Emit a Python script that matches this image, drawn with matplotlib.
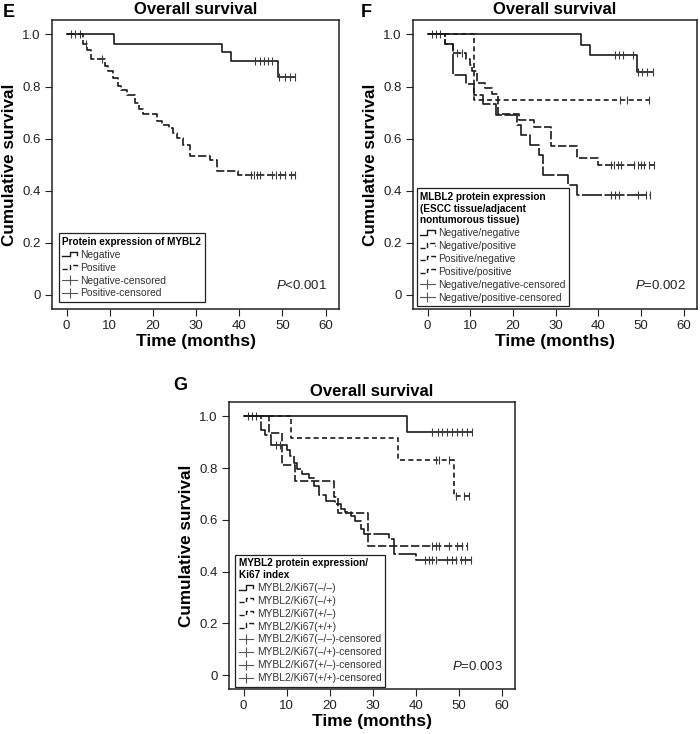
import numpy as np
import matplotlib
matplotlib.use("Agg")
import matplotlib.pyplot as plt
from matplotlib.lines import Line2D
from matplotlib.legend_handler import HandlerBase

plt.rcParams["font.family"] = ["Liberation Sans", "DejaVu Sans"]
plt.rcParams["mathtext.fontset"] = "custom"
plt.rcParams["mathtext.rm"] = "Liberation Sans"
plt.rcParams["mathtext.it"] = "Liberation Sans:italic"

# ---- data ----
x_ticks = [0, 10, 20, 30, 40, 50, 60]
y_ticks = [0, 0.2, 0.4, 0.6, 0.8, 1.0]
y_tick_labels = ["0", "0.2", "0.4", "0.6", "0.8", "1.0"]

# panel E
e_neg_t = [11, 36, 38, 49]
e_neg_s = [0.965, 0.931, 0.897, 0.837]
e_neg_c = [1, 2, 3, 43.7, 44.7, 45.7, 46.6, 47.6, 49.3, 50.5, 51.7, 52.9]
e_pos_t = [3.8, 4.6, 5.7, 8.8, 9.6, 10.8, 11.9, 12.7, 13.9, 15.8, 16.7, 17.7,
           20.9, 22, 23.6, 24.7, 25.5, 27, 28.6, 33.3, 34.8, 39.8]
e_pos_s = [0.962, 0.942, 0.904, 0.878, 0.859, 0.833, 0.801, 0.788, 0.769, 0.737,
           0.712, 0.695, 0.667, 0.654, 0.641, 0.622, 0.603, 0.577, 0.532, 0.519,
           0.474, 0.459]
e_pos_c = [4.5, 8.1, 42.6, 43.3, 44.1, 44.9, 47.6, 48.4, 49.5, 50.7, 51.9, 53.0]

# panel F
f_nn_t = [36, 38, 49]
f_nn_s = [0.96, 0.92, 0.857]
f_nn_c = [1, 2, 3, 44, 44.9, 45.8, 48, 49.2, 50.3, 51.5, 52.7]
f_np_t = [11]
f_np_s = [0.75]
f_np_c = [45, 46.8, 51.9]
f_pn_t = [4, 6, 9, 10, 10.5, 11.5, 13.5, 15, 16.5, 21.5, 25, 29, 35, 40]
f_pn_s = [0.964, 0.929, 0.906, 0.882, 0.859, 0.812, 0.795, 0.77, 0.695, 0.67,
          0.645, 0.573, 0.525, 0.50]
f_pn_c = [7, 8, 43, 43.7, 44.5, 45.3, 48.4, 49.2, 50, 50.7, 51.9, 53]
f_pp_t = [4, 6, 9, 11, 13, 16, 21, 22, 24, 26, 27, 33, 35]
f_pp_s = [0.962, 0.846, 0.808, 0.769, 0.731, 0.692, 0.654, 0.615, 0.577, 0.538,
          0.462, 0.423, 0.385]
f_pp_c = [43, 44, 44.9, 49.2, 51.1, 52]

# panel G
g_mm_t = [38]
g_mm_s = [0.941]
g_mm_c = [1, 2, 3, 43.9, 45.1, 46.2, 47.4, 48.5, 49.7, 50.8, 52, 53.1]
g_mp_t = [11, 36, 49]
g_mp_s = [0.917, 0.833, 0.694]
g_mp_c = [44.7, 45.4, 47.7, 49.3, 51.2, 52.4]
g_pm_t = [6, 9, 12, 21, 22, 29]
g_pm_s = [0.9375, 0.8125, 0.75, 0.6875, 0.625, 0.5]
g_pm_c = [43.9, 44.7, 45.4, 47.7, 49.7, 50.8, 52]
g_pp_t = [4, 5.1, 6.3, 10.2, 10.9, 11.7, 12.5, 13.6, 15.2, 16.5, 17.5, 19.1,
          21.2, 22.6, 23.7, 24.9, 26, 27.2, 28.1, 33.8, 35, 40]
g_pp_s = [0.949, 0.929, 0.891, 0.872, 0.846, 0.82, 0.795, 0.776, 0.763, 0.731,
          0.695, 0.673, 0.66, 0.643, 0.631, 0.615, 0.596, 0.564, 0.545, 0.526,
          0.468, 0.446]
g_pp_c = [7.5, 8.5, 42.3, 43.1, 43.9, 44.7, 47.3, 48.5, 49.5, 50.5, 51.6, 52.8]

LINE = "#1a1a1a"
CENS = "#3a3a3a"
SOLID = "-"
SHORT = (0, (3, 2))
LONG = (0, (5, 1.6))
VLONG = (0, (12, 1.5))


def km(ax, t, s, c, ls):
    t = np.asarray(t, float)
    s = np.asarray(s, float)
    c = np.asarray(c, float)
    end = max(t.max(), c.max())
    xs = np.concatenate([[0], t, [end]])
    ys = np.concatenate([[1.0], s, [s[-1]]])
    ax.step(xs, ys, where="post", color=LINE, lw=1.2, linestyle=ls)
    idx = np.searchsorted(t, c, side="right")
    cy = np.concatenate([[1.0], s])[idx]
    ax.plot(c, cy, linestyle="none", marker="|", markersize=6, mew=0.8, color=CENS)


class StepHandler(HandlerBase):
    def create_artists(self, legend, orig_handle, xdescent, ydescent, width, height,
                       fontsize, trans):
        x0, y0 = -xdescent, -ydescent
        xs = [x0, x0 + width * 0.5, x0 + width * 0.5, x0 + width, x0 + width]
        ys = [y0 + height * 0.2, y0 + height * 0.2, y0 + height * 0.85,
              y0 + height * 0.85, y0 + height * 0.45]
        ln = Line2D(xs, ys, color=LINE, lw=1.0, linestyle=orig_handle.get_linestyle())
        ln.set_transform(trans)
        return [ln]


class StepKey(Line2D):
    pass


def style_axes(ax, ptext):
    ax.set_xlim(-3.4, 63.1)
    ax.set_ylim(-0.054, 1.056)
    ax.set_xticks(x_ticks)
    ax.set_yticks(y_ticks)
    ax.set_yticklabels(y_tick_labels)
    ax.tick_params(direction="out", length=5, width=0.8, labelsize=9.5, pad=3,
                   colors="#222222")
    for sp in ax.spines.values():
        sp.set_linewidth(1.1)
        sp.set_color("#222222")
    ax.set_title("Overall survival", fontsize=12, fontweight="bold", pad=4)
    ax.set_xlabel("Time (months)", fontsize=12.5, fontweight="bold", labelpad=1)
    ax.set_ylabel("Cumulative survival", fontsize=12.3, fontweight="bold", labelpad=4)
    ax.text(0.96, 0.08, ptext, transform=ax.transAxes, ha="right", va="center",
            fontsize=9.5, color="#222222")


def add_legend(ax, title, steps, cens, anchor):
    handles = [StepKey([], [], linestyle=ls) for ls, _ in steps]
    labels = [lab for _, lab in steps]
    for lab in cens:
        handles.append(Line2D([], [], color="#555555", lw=0.8, marker="|",
                              markersize=7, mew=0.8))
        labels.append(lab)
    leg = ax.legend(handles, labels, title=title, loc="lower left",
                    bbox_to_anchor=anchor, borderaxespad=0, fontsize=7.4,
                    title_fontproperties={"weight": "bold", "size": 7.2},
                    handler_map={StepKey: StepHandler()}, handlelength=1.4,
                    handletextpad=0.35, labelspacing=0.28, borderpad=0.35,
                    fancybox=False, framealpha=1, edgecolor="#222222",
                    alignment="left", numpoints=1)
    leg.get_frame().set_linewidth(0.9)
    for txt in leg.get_texts():
        txt.set_color("#333333")


fig = plt.figure(figsize=(7.0, 7.34), dpi=100)

# ---- E ----
axE = fig.add_axes([0.0743, 0.579, 0.41, 0.394])
km(axE, e_neg_t, e_neg_s, e_neg_c, SOLID)
km(axE, e_pos_t, e_pos_s, e_pos_c, LONG)
style_axes(axE, "$P$<0.001")
add_legend(axE, "Protein expression of MYBL2",
           [(SOLID, "Negative"), (LONG, "Positive")],
           ["Negative-censored", "Positive-censored"], (0.024, 0.024))

# ---- F ----
axF = fig.add_axes([0.59, 0.579, 0.4057, 0.394])
km(axF, f_nn_t, f_nn_s, f_nn_c, SOLID)
km(axF, f_np_t, f_np_s, f_np_c, SHORT)
km(axF, f_pn_t, f_pn_s, f_pn_c, LONG)
km(axF, f_pp_t, f_pp_s, f_pp_c, VLONG)
style_axes(axF, "$P$=0.002")
add_legend(axF, "MLBL2 protein expression\n(ESCC tissue/adjacent\nnontumorous tissue)",
           [(SOLID, "Negative/negative"), (SHORT, "Negative/positive"),
            (LONG, "Positive/negative"), (VLONG, "Positive/positive")],
           ["Negative/negative-censored", "Negative/positive-censored"],
           (0.013, 0.01))

# ---- G ----
axG = fig.add_axes([0.327, 0.0613, 0.4086, 0.391])
km(axG, g_mm_t, g_mm_s, g_mm_c, SOLID)
km(axG, g_mp_t, g_mp_s, g_mp_c, SHORT)
km(axG, g_pm_t, g_pm_s, g_pm_c, LONG)
km(axG, g_pp_t, g_pp_s, g_pp_c, VLONG)
style_axes(axG, "$P$=0.003")
add_legend(axG, "MYBL2 protein expression/\nKi67 index",
           [(SOLID, "MYBL2/Ki67(\u2013/\u2013)"), (SHORT, "MYBL2/Ki67(\u2013/+)"),
            (LONG, "MYBL2/Ki67(+/\u2013)"), (VLONG, "MYBL2/Ki67(+/+)")],
           ["MYBL2/Ki67(\u2013/\u2013)-censored", "MYBL2/Ki67(\u2013/+)-censored",
            "MYBL2/Ki67(+/\u2013)-censored", "MYBL2/Ki67(+/+)-censored"],
           (0.023, 0.008))

fig.text(0.004, 0.995, "E", fontsize=13, fontweight="bold", va="top")
fig.text(0.515, 0.995, "F", fontsize=13, fontweight="bold", va="top")
fig.text(0.248, 0.487, "G", fontsize=13, fontweight="bold", va="top")

fig.savefig("out.png", dpi=100)
